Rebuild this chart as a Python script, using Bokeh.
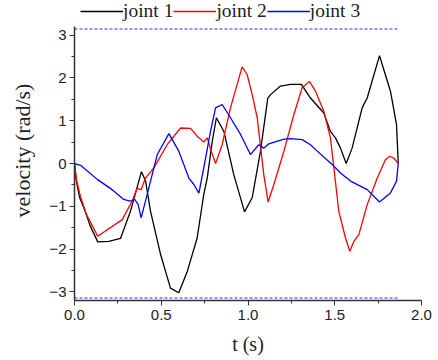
import math

from bokeh.embed import file_html
from bokeh.models import (Legend, LegendItem, Range1d, FixedTicker,
                          CustomJSTickFormatter, LinearAxis)
from bokeh.plotting import figure
from bokeh.resources import INLINE

# joint velocity profiles (time in s, velocity in rad/s)
t1 = [0, 0.01, 0.03, 0.06, 0.09, 0.134, 0.198, 0.265, 0.323, 0.386, 0.41, 0.438,
      0.496, 0.553, 0.601, 0.65, 0.707, 0.745, 0.765, 0.794, 0.818, 0.861, 0.918,
      0.98, 1.024, 1.072, 1.114, 1.13, 1.187, 1.245, 1.308, 1.36, 1.437, 1.475,
      1.504, 1.533, 1.566, 1.60, 1.658, 1.687, 1.758, 1.821, 1.856, 1.866]
v1 = [0, -0.4, -0.8, -1.1, -1.45, -1.83, -1.82, -1.75, -1.11, -0.19, -0.41, -1.11,
      -2.12, -2.91, -3.02, -2.52, -1.74, -0.72, -0.34, 0.52, 1.07, 0.75, -0.26,
      -1.13, -0.80, 0.29, 1.53, 1.61, 1.81, 1.85, 1.85, 1.53, 1.18, 0.75,
      0.60, 0.36, 0.00, 0.36, 1.30, 1.53, 2.52, 1.69, 0.91, 0.0]

t2 = [0, 0.012, 0.035, 0.07, 0.134, 0.275, 0.332, 0.361, 0.384, 0.409, 0.457,
      0.534, 0.611, 0.669, 0.707, 0.745, 0.765, 0.788, 0.813, 0.851, 0.899, 0.966,
      0.995, 1.024, 1.053, 1.091, 1.116, 1.149, 1.207, 1.264, 1.312, 1.354, 1.389,
      1.437, 1.475, 1.495, 1.523, 1.562, 1.587, 1.61, 1.639, 1.687, 1.745, 1.792,
      1.817, 1.84, 1.866]
v2 = [0, -0.4, -0.78, -1.2, -1.70, -1.31, -0.88, -0.58, -0.61, -0.34, -0.10,
      0.44, 0.83, 0.82, 0.64, 0.50, 0.60, 0.29, 0.00, 0.44, 1.30, 2.26,
      2.08, 1.61, 1.07, -0.26, -0.90, -0.49, 0.29, 1.14, 1.77, 1.92, 1.69,
      1.22, 0.60, -0.10, -1.11, -1.74, -2.05, -1.82, -1.66, -0.96, -0.34, 0.09,
      0.17, 0.13, 0.0]

t3 = [0, 0.035, 0.131, 0.217, 0.284, 0.319, 0.348, 0.367, 0.384, 0.409, 0.477,
      0.544, 0.601, 0.659, 0.688, 0.717, 0.745, 0.784, 0.813, 0.851, 0.899, 0.957,
      1.014, 1.062, 1.091, 1.12, 1.207, 1.245, 1.312, 1.36, 1.399, 1.485, 1.533,
      1.591, 1.687, 1.758, 1.821, 1.856, 1.866]
v3 = [0, -0.04, -0.37, -0.61, -0.84, -0.88, -0.84, -0.96, -1.27, -0.88, 0.21,
      0.70, 0.29, -0.34, -0.49, -0.69, -0.10, 0.75, 1.30, 1.38, 1.07, 0.68,
      0.21, 0.44, 0.36, 0.46, 0.57, 0.58, 0.56, 0.44, 0.29, -0.02, -0.22,
      -0.41, -0.61, -0.90, -0.69, -0.41, 0.0]

labels = ["joint 1", "joint 2", "joint 3"]
colors = ["black", "red", "blue"]

# velocity limits +/- pi over the motion duration
t_end = 1.866
limit = math.pi

# the frame runs to the top edge so the legend can sit above the axis span
frame_h = 300
px_per_unit = 42.8
y_lo, y_axis_hi = -3.2, 3.2
y_hi = y_lo + frame_h / px_per_unit

p = figure(width=438, height=360, output_backend="svg", toolbar_location=None,
           x_range=Range1d(0, 2), y_range=Range1d(y_lo, y_hi),
           min_border_left=74, min_border_right=17, min_border_top=0,
           min_border_bottom=60)
p.outline_line_color = None
p.grid.visible = False
p.background_fill_color = "white"
p.border_fill_color = "white"

for lim in (limit, -limit):
    p.line([0, t_end], [lim, lim], line_color="#7373ff", line_width=1.5,
           line_dash="3 2")

renderers = []
for t, v, c in zip((t1, t2, t3), (v1, v2, v3), colors):
    renderers.append(p.line(t, v, line_color=c, line_width=1.3))

p.xaxis.ticker = FixedTicker(ticks=[0, 0.5, 1.0, 1.5, 2.0],
                             minor_ticks=[0.25, 0.75, 1.25, 1.75])
p.yaxis.ticker = FixedTicker(ticks=[-3, -2, -1, 0, 1, 2, 3],
                             minor_ticks=[-2.5, -1.5, -0.5, 0.5, 1.5, 2.5])
p.xaxis.formatter = CustomJSTickFormatter(code="return tick.toFixed(1);")
p.yaxis.bounds = (y_lo, y_axis_hi)

for ax in (p.xaxis, p.yaxis):
    ax.axis_line_color = "#333333"
    ax.axis_line_width = 1.5
    ax.major_tick_line_color = "#333333"
    ax.minor_tick_line_color = "#333333"
    ax.major_tick_out = 5
    ax.major_tick_in = 0
    ax.minor_tick_out = 3
    ax.minor_tick_in = 0
    ax.major_label_text_font = "Liberation Sans"
    ax.major_label_text_font_size = "15px"
    ax.major_label_text_color = "#222222"

p.xaxis.axis_label = "t (s)"
p.xaxis.axis_label_text_font = "Liberation Serif"
p.xaxis.axis_label_text_font_size = "20px"
p.xaxis.axis_label_text_font_style = "normal"
p.xaxis.axis_label_text_color = "#222222"
p.xaxis.major_label_standoff = 4
p.yaxis.major_label_standoff = 3
p.xaxis.axis_label_standoff = 10

# y title carried by a bare outer axis so it can be centred on its own span
title_axis = LinearAxis(bounds=(y_lo, 2.65), ticker=FixedTicker(ticks=[]),
                        axis_line_color=None, major_tick_line_color=None,
                        minor_tick_line_color=None,
                        axis_label="velocity (rad/s)",
                        axis_label_text_font="Liberation Serif",
                        axis_label_text_font_size="22px",
                        axis_label_text_font_style="normal",
                        axis_label_text_color="#222222",
                        axis_label_standoff=12)
p.add_layout(title_axis, "left")

items = [LegendItem(label=name, renderers=[rend])
         for name, rend in zip(labels, renderers)]
legend = Legend(items=items, orientation="horizontal", location=(6, 278),
                glyph_width=43, glyph_height=20, label_height=20,
                label_standoff=0, spacing=0,
                padding=0, margin=0, border_line_alpha=0,
                background_fill_alpha=0,
                label_text_font="Liberation Serif", label_text_font_size="19.5px",
                label_text_color="#222222")
p.add_layout(legend, "center")

open("out.html", "w").write(file_html(p, INLINE))
